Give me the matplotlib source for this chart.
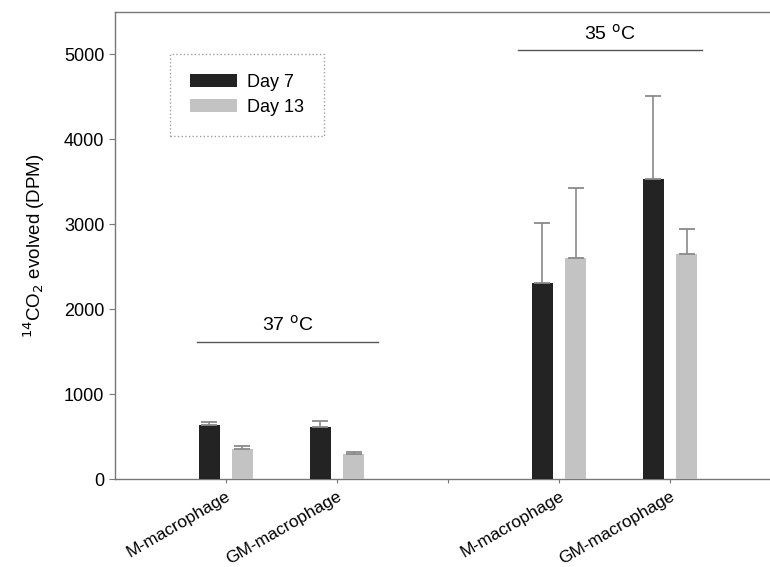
import matplotlib
matplotlib.use("Agg")
import matplotlib.pyplot as plt
import matplotlib.patches as mpatches
import numpy as np

# ── Data ──────────────────────────────────────────────────────────────────────
CELLS     = ["M-macrophage", "GM-macrophage", "", "M-macrophage", "GM-macrophage"]
DAY7      = [640, 610, 0, 2310, 3530]
DAY7_ERR  = [30, 70, 0, 710, 980]
DAY13     = [350, 300, 0, 2600, 2650]
DAY13_ERR = [45, 15, 0, 830, 290]
HAS_BAR   = [True, True, False, True, True]

COL_D7   = "#232323"
COL_D13  = "#c3c3c3"
COL_ERR  = "#8a8a8a"
COL_AXIS = "#777777"

plt.rcParams["font.family"] = ["Liberation Sans", "DejaVu Sans"]

fig = plt.figure(figsize=(7.7, 5.67), dpi=100)
ax = fig.add_axes([0.149, 0.155, 0.851, 0.824])

x = np.arange(1, len(CELLS) + 1)
idx = [i for i, h in enumerate(HAS_BAR) if h]
w, off = 0.19, 0.15
ekw = dict(ecolor=COL_ERR, elinewidth=1.2, capsize=5.5, capthick=1.3)

ax.bar(x[idx] - off, [DAY7[i] for i in idx], width=w, color=COL_D7,
       yerr=[[0] * len(idx), [DAY7_ERR[i] for i in idx]],
       error_kw=ekw, label="Day 7", zorder=3)
ax.bar(x[idx] + off, [DAY13[i] for i in idx], width=w, color=COL_D13,
       yerr=[[0] * len(idx), [DAY13_ERR[i] for i in idx]],
       error_kw=ekw, label="Day 13", zorder=3)

# temperature brackets
ax.plot([0.74, 2.37], [1615, 1615], color="#555555", lw=1)
ax.text(1.555, 1700, "37 $^{\\mathrm{o}}$C", ha="center", va="bottom", fontsize=14)
ax.plot([3.63, 5.29], [5047, 5047], color="#555555", lw=1)
ax.text(4.46, 5130, "35 $^{\\mathrm{o}}$C", ha="center", va="bottom", fontsize=14)

ax.set_xlim(0, 5.9)
ax.set_ylim(0, 5500)
ax.set_yticks([0, 1000, 2000, 3000, 4000, 5000])
ax.set_xticks(x)
ax.set_xticklabels(CELLS, rotation=30, ha="right", rotation_mode="anchor", fontsize=12.5)
ax.tick_params(axis="y", labelsize=13, length=4, color=COL_AXIS, direction="out")
ax.tick_params(axis="x", length=3, color=COL_AXIS, direction="out", pad=4)
ax.set_ylabel("$^{14}$CO$_2$ evolved (DPM)", fontsize=13.5, labelpad=12)

for s in ["left", "bottom", "top"]:
    ax.spines[s].set_color(COL_AXIS)
    ax.spines[s].set_linewidth(1)
ax.spines["right"].set_visible(False)

handles = [mpatches.Patch(facecolor=COL_D7, label="Day 7"),
           mpatches.Patch(facecolor=COL_D13, label="Day 13")]
leg = ax.legend(handles=handles, loc="upper left", bbox_to_anchor=(0.084, 0.91),
                borderaxespad=0, fontsize=13, frameon=True, fancybox=False,
                handlelength=2.6, handleheight=0.75, handletextpad=0.6,
                borderpad=1.1, labelspacing=0.45)
leg.get_frame().set_edgecolor("#888888")
leg.get_frame().set_linestyle(":")
leg.get_frame().set_linewidth(1)

fig.savefig("out.png", dpi=100, facecolor="white")
